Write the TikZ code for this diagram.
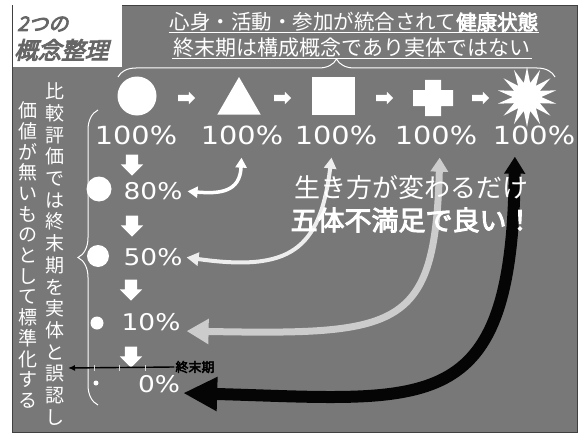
\documentclass[tikz,border=0pt]{standalone}
\usepackage{fontspec}
\usetikzlibrary{shapes.geometric,shapes.arrows,arrows.meta,decorations.pathreplacing}
\newfontfamily\jp{Noto Sans CJK JP}
\newfontfamily\jpb{Noto Sans CJK JP}[FakeBold=3.5]
\newfontfamily\jpt{Noto Sans CJK JP}[FakeBold=4,FakeSlant=0.25]
\newfontfamily\numf{DejaVu Sans}[FakeStretch=1.15]
\definecolor{bg}{gray}{0.47}
\definecolor{arrowA}{gray}{1}
\definecolor{arrowB}{gray}{0.93}
\definecolor{arrowC}{gray}{0.8}
\definecolor{arrowD}{gray}{0.02}
\begin{document}
\begin{tikzpicture}[x=1pt,y=-1pt,
  wtxt/.style={text=white, inner sep=1pt},
  bigpct/.style={wtxt, font=\numf\fontsize{25}{25}\selectfont},
  pct/.style={wtxt, font=\numf\fontsize{23}{23}\selectfont},
  vcol/.style={wtxt, align=center, inner sep=0pt},
  shapew/.style={fill=white, inner sep=0pt},
  dot/.style={circle, fill=white, inner sep=0pt},
  rarrow/.style={single arrow, fill=white, inner sep=3pt, single arrow head extend=3pt, minimum height=17pt},
  darrow/.style={single arrow, fill=white, inner sep=6pt, single arrow head extend=5pt, minimum height=21pt, shape border rotate=270},
  curv/.style={line cap=butt}
]
\useasboundingbox (0,0) rectangle (581,436);
\fill[white] (0,0) rectangle (581,436);
\filldraw[fill=bg, draw=black!75, line width=0.8pt] (12,5) rectangle (577,432);

% title box
\node[fill=white, minimum width=109pt, minimum height=62pt, anchor=north west, inner sep=0pt] (tbox) at (13,5) {};
\node[anchor=west, font=\jpt\fontsize{20}{20}\selectfont, text=black!60, inner sep=0pt] (t1) at (17,24) {2つの};
\node[anchor=west, font=\jpt\fontsize{23.5}{24}\selectfont, text=black!60, inner sep=0pt] (t2) at (14,50) {概念整理};

% header
\node[wtxt, font=\jp\fontsize{20.5}{21}\selectfont] (h1) at (354,22) {心身・活動・参加が統合されて{\jpb 健康状態}};
\node[wtxt, font=\jp\fontsize{21}{21}\selectfont] (h2) at (352,48) {終末期は構成概念であり実体ではない};
\draw[white, line width=0.9pt] (h1.south west) -- (h1.south east);
\draw[white, line width=0.9pt] (h2.south west) -- (h2.south east);
\coordinate (brL) at (118,77);
\coordinate (brR) at (555,77);
\draw[white, line width=1pt, decorate, decoration={brace, amplitude=18pt}] (brL) -- (brR);

% shapes row
\node[dot, minimum size=39pt] (s1) at (137,96) {};
\node[rarrow] (r1) at (185,98) {};
\node[regular polygon, regular polygon sides=3, shapew, minimum size=50pt] (s2) at (239,102) {};
\node[rarrow] (r2) at (281,98) {};
\node[shapew, minimum width=43pt, minimum height=37pt] (s3) at (333,96) {};
\node[rarrow] (r3) at (383,98) {};
\fill[white] (425,80) -- (441,80) -- (441,90) -- (453,90) -- (453,106) -- (441,106) -- (441,116)
  -- (425,116) -- (425,106) -- (413,106) -- (413,90) -- (425,90) -- cycle;
\coordinate (s4) at (433,98);
\node[rarrow] (r4) at (479,98) {};
\node[star, star points=14, star point ratio=2.1, shapew, minimum size=60pt] (s5) at (527,97) {};

% 100% row
\node[bigpct] (p1) at (136,135) {100\%};
\node[bigpct] (p2) at (242,135) {100\%};
\node[bigpct] (p3) at (336,135) {100\%};
\node[bigpct] (p4) at (436,135) {100\%};
\node[bigpct] (p5) at (534,135) {100\%};

% left column
\node[vcol, font=\jp\fontsize{19}{20.7}\selectfont] (v1) at (28,255) {価\\値\\が\\無\\い\\も\\の\\と\\し\\て\\標\\準\\化\\す\\る};
\node[vcol, font=\jp\fontsize{19}{21.7}\selectfont] (v2) at (55,254) {比\\較\\評\\価\\で\\は\\終\\末\\期\\を\\実\\体\\と\\誤\\認\\し};
\coordinate (lbB) at (98,405);
\coordinate (lbT) at (98,110);
\draw[white, line width=1pt, decorate, decoration={brace, amplitude=20pt}] (lbB) -- (lbT);

% decline
\node[darrow] (da1) at (132,162) {};
\node[dot, minimum size=25pt] (d80) at (99,189) {};
\node[pct] (p80) at (153,191) {80\%};
\node[darrow] (da2) at (132,223) {};
\node[dot, minimum size=22pt] (d50) at (98,256) {};
\node[pct] (p50) at (153,257) {50\%};
\node[darrow] (da3) at (131,287) {};
\node[dot, minimum size=13pt] (d10) at (97,323) {};
\node[pct] (p10) at (151,322) {10\%};
\node[darrow] (da4) at (131,354) {};
\node[dot, minimum size=5pt] (d0) at (96,383) {};
\node[pct] (p0) at (159,384) {0\%};

% axis
\node[font=\jpb\fontsize{13}{13}\selectfont, text=black, inner sep=1pt] (ax) at (195,367) {終末期};
\coordinate (axL) at (68,368);
\draw[black, line width=1.4pt, -{Latex[length=7pt,width=6pt]}] (ax.west) -- (axL);
\foreach \tx in {94,119,145} \draw[white!85!black, line width=1pt] (\tx,365) -- (\tx,371);

% curved arrows
\draw[curv, arrowA, line width=3.5pt, {Triangle[length=10pt,width=11pt]}-{Triangle[length=10pt,width=11pt]}, shorten <=12pt, shorten >=4pt]
  (p2.south) .. controls (240,192) and (220,194) .. (p80.east);
\draw[curv, arrowB, line width=4pt, {Triangle[length=11pt,width=12pt]}-{Triangle[length=12pt,width=13pt]}, shorten <=12pt, shorten >=3pt]
  ([xshift=-3pt]p3.south) .. controls (320,250) and (290,272) .. (p50.east);
\draw[curv, arrowC, line width=7pt, {Triangle[length=14pt,width=17pt]}-{Triangle[length=22pt,width=24pt]}, shorten <=12pt, shorten >=5pt]
  ([xshift=4pt]p4.south) .. controls (435,330) and (400,335) .. ([yshift=-9pt]p10.east);
\draw[curv, arrowD, line width=12pt, {Triangle[length=17pt,width=20pt]}-{Triangle[length=34pt,width=32pt]}, shorten <=11pt, shorten >=2pt]
  ([xshift=-19pt]p5.south) .. controls (512,420) and (430,400) .. ([yshift=-9pt]p0.east);

% slogan
\node[wtxt, font=\jp\fontsize{26}{26}\selectfont] (g1) at (411,188) {生き方が変わるだけ};
\node[wtxt, font=\jpb\fontsize{27}{27}\selectfont] (g2) at (412,220) {五体不満足で良い！};
\end{tikzpicture}
\end{document}
